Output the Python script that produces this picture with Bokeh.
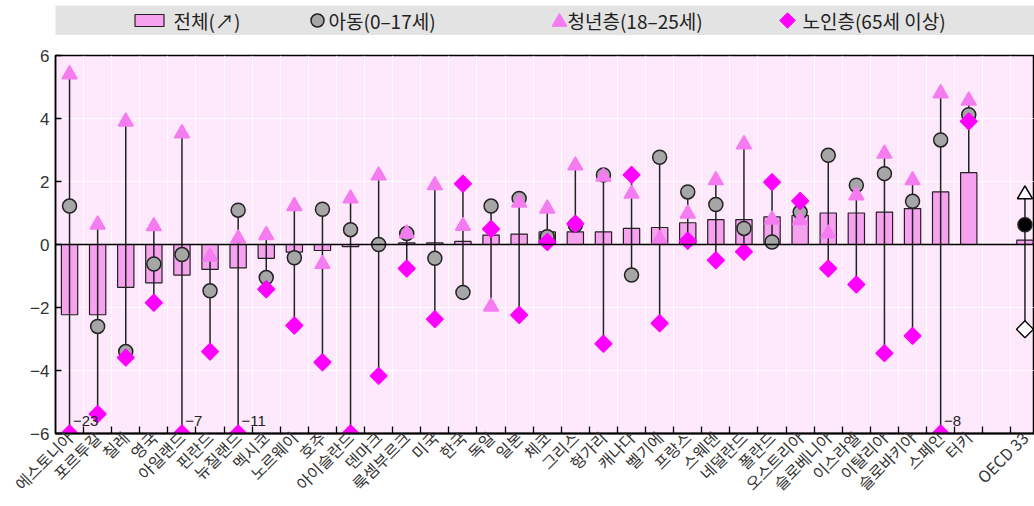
import math
from bokeh.plotting import figure
from bokeh.models import FixedTicker, Span, ColumnDataSource, Range1d
from bokeh.layouts import column
from bokeh.embed import file_html
from bokeh.resources import INLINE
from bokeh.core.properties import value

# ---------------- data ----------------
countries = ["에스토니아", "포르투갈", "칠레", "영국", "아일랜드", "핀란드", "뉴질랜드", "멕시코",
             "노르웨이", "호주", "아이슬란드", "덴마크", "룩셈부르크", "미국", "한국", "독일",
             "일본", "체코", "그리스", "헝가리", "캐나다", "벨기에", "프랑스", "스웨덴",
             "네덜란드", "폴란드", "오스트리아", "슬로베니아", "이스라엘", "이탈리아",
             "슬로바키아", "스페인", "터키"]
total = [-2.23, -2.23, -1.36, -1.22, -0.97, -0.79, -0.74, -0.44, -0.24, -0.19, -0.07, 0.0,
         0.05, 0.05, 0.1, 0.3, 0.33, 0.4, 0.4, 0.4, 0.51, 0.54, 0.69, 0.79, 0.79, 0.88,
         0.92, 1.0, 1.0, 1.03, 1.14, 1.67, 2.28]
child = [1.22, -2.6, -3.4, -0.62, -0.32, -1.47, 1.09, -1.05, -0.42, 1.12, 0.47, 0.0,
         0.35, -0.44, -1.52, 1.22, 1.46, 0.25, 0.62, 2.21, -0.97, 2.77, 1.67, 1.27,
         0.51, 0.08, 1.03, 2.83, 1.88, 2.25, 1.37, 3.32, 4.12]
youth = [5.4, 0.63, 3.9, 0.58, 3.53, -0.39, 0.19, 0.3, 1.22, -0.62, 1.46, 2.19,
         0.35, 1.88, 0.59, -1.97, 1.33, 1.14, 2.51, 2.15, 1.61, 0.17, 0.98, 2.04,
         3.18, 0.79, 0.77, 0.35, 1.56, 2.88, 2.04, 4.8, 4.57]
elderly = [-23, -5.38, -3.59, -1.85, -7, -3.4, -11, -1.42, -2.57, -3.74, -6.0, -4.17,
           -0.76, -2.37, 1.93, 0.49, -2.24, 0.08, 0.66, -3.15, 2.21, -2.5, 0.12, -0.5,
           -0.23, 1.98, 1.38, -0.76, -1.27, -3.45, -2.9, -8, 3.91]
oecd_label = "OECD 33"
oecd_total = 0.14
oecd_child = 0.63
oecd_youth = 1.59
oecd_elderly = -2.69

y_ticks = [-6, -4, -2, 0, 2, 4, 6]
legend_labels = ["전체(↗)", "아동(0–17세)", "청년층(18–25세)", "노인층(65세 이상)"]

# ---------------- styles ----------------
FONT_KR = "Noto Sans CJK KR"
FONT_NUM = "Liberation Sans"
BAR_COLOR = "#f6a2ef"
CHILD_COLOR = "#a6a6a6"
YOUTH_COLOR = "#f47cf0"
ELDER_COLOR = "#ff00ff"
BG = "#fde9fb"
YMIN, YMAX = -6, 6

n = len(countries)
xs = list(range(n))
oecd_x = n + 1
all_x = xs + [oecd_x]
all_labels = countries + [oecd_label]
all_total = total + [oecd_total]
all_child = child + [oecd_child]
all_youth = youth + [oecd_youth]
all_elder = elderly + [oecd_elderly]

def clip(v):
    return max(YMIN, min(YMAX, v))

lo = [clip(min(a, b, c, d)) for a, b, c, d in zip(all_total, all_child, all_youth, all_elder)]
hi = [clip(max(a, b, c, d)) for a, b, c, d in zip(all_total, all_child, all_youth, all_elder)]

src = ColumnDataSource(dict(
    x=all_x, total=all_total, lo=lo, hi=hi,
    child=[clip(v) for v in all_child],
    youth=[clip(v) for v in all_youth],
    elder=[clip(v) for v in all_elder],
    child_fill=[CHILD_COLOR] * n + ["black"],
    youth_fill=[YOUTH_COLOR] * n + ["white"],
    youth_line=[YOUTH_COLOR] * n + ["black"],
    elder_fill=[ELDER_COLOR] * n + ["white"],
    elder_line=[ELDER_COLOR] * n + ["black"],
))

# ---------------- main figure ----------------
p = figure(width=1034, height=471, x_range=Range1d(-0.5, oecd_x + 0.34),
           y_range=Range1d(YMIN, YMAX), output_backend="svg", toolbar_location=None,
           min_border_left=55, min_border_right=0, min_border_top=20, min_border_bottom=72,
           background_fill_color=BG, border_fill_color="white",
           outline_line_color="black", outline_line_width=1.5)

boundaries = [i + 0.5 for i in range(oecd_x)]
p.xaxis.ticker = FixedTicker(ticks=all_x, minor_ticks=boundaries)
p.xaxis.major_label_overrides = {x: lab for x, lab in zip(all_x, all_labels)}
p.xaxis.major_tick_in = 0
p.xaxis.major_tick_out = 0
p.xaxis.minor_tick_in = 7
p.xaxis.minor_tick_out = 0
p.xaxis.minor_tick_line_color = "black"
p.xaxis.minor_tick_line_width = 1.3
p.xaxis.axis_line_color = "black"
p.xaxis.axis_line_width = 2
p.xaxis.major_label_orientation = math.pi / 4
p.xaxis.major_label_text_font = FONT_KR
p.xaxis.major_label_text_font_size = "16px"
p.xaxis.major_label_text_color = "#333333"
p.xaxis.major_label_standoff = 1

p.yaxis.ticker = FixedTicker(ticks=y_ticks, minor_ticks=[])
p.yaxis.major_label_overrides = {t: (str(t).replace("-", "−")) for t in y_ticks}
p.yaxis.major_tick_in = 6
p.yaxis.major_tick_out = 0
p.yaxis.major_tick_line_color = "black"
p.yaxis.major_tick_line_width = 1.3
p.yaxis.axis_line_color = "black"
p.yaxis.axis_line_width = 1.5
p.yaxis.major_label_text_font = FONT_NUM
p.yaxis.major_label_text_font_size = "17px"
p.yaxis.major_label_text_color = "#333333"
p.yaxis.major_label_standoff = 6

p.xgrid.grid_line_color = None
p.xgrid.minor_grid_line_color = "white"
p.xgrid.minor_grid_line_alpha = 0.8
p.ygrid.grid_line_color = "white"
p.ygrid.grid_line_alpha = 0.8

p.vbar(x="x", top="total", bottom=0, width=0.58, source=src,
       fill_color=BAR_COLOR, line_color="#222222", line_width=1.2)
p.add_layout(Span(location=0, dimension="width", line_color="black", line_width=1.5))
p.segment(x0="x", y0="lo", x1="x", y1="hi", source=src, line_color="#222222", line_width=1.5)
p.scatter(x="x", y="child", source=src, marker="circle", size=14,
          fill_color="child_fill", line_color="#222222", line_width=1.5)
p.scatter(x="x", y="youth", source=src, marker="triangle", size=15,
          fill_color="youth_fill", line_color="youth_line", line_width=1.5)
p.scatter(x="x", y="elder", source=src, marker="square", angle=math.pi / 4, size=12,
          fill_color="elder_fill", line_color="elder_line", line_width=1.3)

# labels for out-of-range values
ann_x, ann_y, ann_t = [], [], []
for x, v in zip(all_x, all_elder):
    if v < YMIN - 0.5:
        ann_x.append(x + 0.12)
        ann_y.append(YMIN + 0.25)
        ann_t.append(("%g" % v).replace("-", "−"))
p.text(x=ann_x, y=ann_y, text=ann_t, text_font=value(FONT_NUM), text_font_size="15px",
       text_color="#222222", text_baseline="bottom", text_align="left")

# ---------------- legend band ----------------
lg = figure(width=1034, height=35, x_range=Range1d(0, 979), y_range=Range1d(0, 1),
            output_backend="svg", toolbar_location=None, x_axis_type=None, y_axis_type=None,
            min_border_left=55, min_border_right=0, min_border_top=5, min_border_bottom=0,
            background_fill_color="#e3e3e3", border_fill_color="white", outline_line_color=None)
lg.grid.visible = False
sym_x = [94, 262, 504, 732]
txt_x = [118, 273, 512, 747]
lg.rect(x=[sym_x[0]], y=[0.5], width=29, height=12, width_units="screen", height_units="screen",
        fill_color=BAR_COLOR, line_color="#222222", line_width=1.2)
lg.scatter(x=[sym_x[1]], y=[0.5], marker="circle", size=13, fill_color=CHILD_COLOR,
           line_color="#222222", line_width=1.5)
lg.scatter(x=[sym_x[2]], y=[0.45], marker="triangle", size=15, fill_color=YOUTH_COLOR,
           line_color=YOUTH_COLOR)
lg.scatter(x=[sym_x[3]], y=[0.5], marker="square", angle=math.pi / 4, size=11,
           fill_color=ELDER_COLOR, line_color=ELDER_COLOR)
lg.text(x=txt_x, y=[0.5] * 4, text=legend_labels, text_font=value(FONT_KR),
        text_font_size="19px", text_color="#222222", text_baseline="middle", text_align="left")

layout = column(lg, p, spacing=0)
open("out.html", "w").write(file_html(layout, INLINE))
